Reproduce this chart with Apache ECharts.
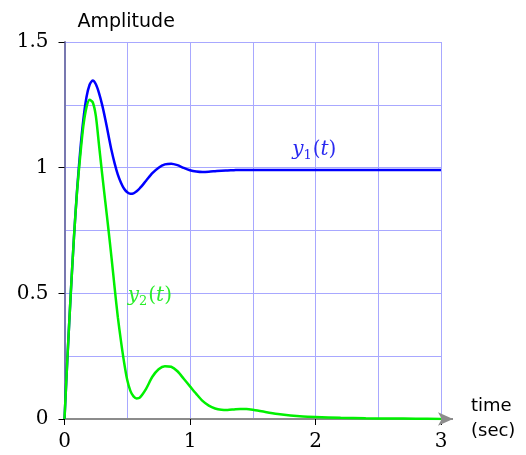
<!DOCTYPE html>
<html><head><meta charset="utf-8">
<script src="https://cdn.jsdelivr.net/npm/echarts@6/dist/echarts.min.js"></script>
<style>html,body{margin:0;padding:0;background:#fff}#c{width:526px;height:455px}</style>
</head><body><div id="c"></div>
<script>
// time samples (sec)
const times = [0,0.025,0.05,0.075,0.1,0.125,0.15,0.175,0.2,0.225,0.25,0.275,0.3,0.325,0.35,0.375,0.4,0.425,0.45,0.475,0.5,0.525,0.55,0.575,0.6,0.65,0.7,0.75,0.8,0.85,0.9,0.95,1.0,1.05,1.1,1.15,1.2,1.25,1.3,1.35,1.4,1.45,1.5,1.6,1.7,1.8,1.9,2.0,2.2,2.4,2.6,2.8,3.0];
// y1(t) amplitude
const y1Values = [0,0.26,0.5,0.72,0.91,1.065,1.19,1.28,1.33,1.347,1.332,1.297,1.25,1.193,1.13,1.068,1.016,0.972,0.94,0.916,0.902,0.896,0.898,0.906,0.918,0.948,0.978,1.0,1.013,1.016,1.01,0.999,0.99,0.985,0.983,0.984,0.986,0.988,0.989,0.99,0.991,0.991,0.991,0.991,0.991,0.991,0.991,0.991,0.991,0.991,0.991,0.991,0.991];
// y2(t) amplitude
const y2Values = [0,0.26,0.5,0.72,0.905,1.045,1.165,1.24,1.27,1.26,1.205,1.09,0.975,0.865,0.755,0.64,0.52,0.405,0.31,0.225,0.155,0.112,0.09,0.082,0.085,0.12,0.168,0.198,0.21,0.208,0.19,0.16,0.13,0.1,0.072,0.053,0.042,0.037,0.036,0.038,0.04,0.04,0.037,0.028,0.02,0.014,0.01,0.008,0.005,0.003,0.002,0.001,0.0];
const seriesNames = ['y1','y2'];
const xAxisTitle = 'time\n(sec)';
const yAxisTitle = 'Amplitude';

const serifFont = 'DejaVu Serif';
const sansFont = 'DejaVu Sans';
const gridColor = '#a8a8ff';

const y1Pairs = times.map((t,i)=>[t,y1Values[i]]);
const y2Pairs = times.map((t,i)=>[t,y2Values[i]]);

function mathLabel(sub, color){
  return {
    show:true, position:'inside',
    formatter:'{i|y}{s|'+sub+'}{r|(}{i|t}{r|)}',
    rich:{
      i:{fontFamily:serifFont,fontStyle:'italic',fontSize:20,color:color},
      r:{fontFamily:serifFont,fontSize:20,color:color},
      s:{fontFamily:serifFont,fontSize:13,color:color,padding:[11,1,0,0]}
    }
  };
}

const chart = echarts.init(document.getElementById('c'));
chart.setOption({
  animation:false,
  grid:{left:64.5,right:85,top:42,bottom:36,containLabel:false},
  xAxis:{
    type:'value',min:0,max:3,interval:1,
    name:xAxisTitle,nameLocation:'end',nameGap:30,
    nameTextStyle:{fontFamily:sansFont,fontSize:18,color:'#000',align:'left',verticalAlign:'middle',lineHeight:25},
    axisLine:{show:true,onZero:false,lineStyle:{color:'#8c8c8c',width:2},symbol:['none','arrow'],symbolSize:[10,15],symbolOffset:[0,12]},
    axisTick:{show:true,length:6,lineStyle:{color:'#000',width:1}},
    axisLabel:{fontFamily:serifFont,fontSize:20,color:'#000',margin:13},
    splitLine:{show:true,lineStyle:{color:gridColor,width:1}},
    minorTick:{show:false,splitNumber:2},
    minorSplitLine:{show:true,lineStyle:{color:gridColor,width:1}}
  },
  yAxis:{
    type:'value',min:0,max:1.5,interval:0.5,
    name:yAxisTitle,nameLocation:'end',nameGap:10,
    nameTextStyle:{fontFamily:sansFont,fontSize:19,color:'#000',align:'left',verticalAlign:'bottom',padding:[0,0,0,13]},
    axisLine:{show:true,onZero:false,lineStyle:{color:'#7878b0',width:2}},
    axisTick:{show:true,length:6,lineStyle:{color:'#000',width:1}},
    axisLabel:{fontFamily:serifFont,fontSize:20,color:'#000',margin:16},
    splitLine:{show:true,lineStyle:{color:gridColor,width:1}},
    minorTick:{show:false,splitNumber:2},
    minorSplitLine:{show:true,lineStyle:{color:gridColor,width:1}}
  },
  series:[
    {name:seriesNames[0],type:'line',data:y1Pairs,showSymbol:false,smooth:0.25,
     lineStyle:{color:'#0000ff',width:2.5},itemStyle:{color:'#0000ff'},z:3,
     markPoint:{symbol:'circle',symbolSize:0,silent:true,
       data:[{coord:[1.99,1.07],label:mathLabel('1','#2a2af0')}]}},
    {name:seriesNames[1],type:'line',data:y2Pairs,showSymbol:false,smooth:0.25,
     lineStyle:{color:'#00f000',width:2.5},itemStyle:{color:'#00f000'},z:4,
     markPoint:{symbol:'circle',symbolSize:0,silent:true,
       data:[{coord:[0.68,0.49],label:mathLabel('2','#2aee2a')}]}}
  ]
});
// extend x axis line toward the arrow head
const p0 = chart.convertToPixel({gridIndex:0},[3,0]);
chart.setOption({graphic:[{type:'line',shape:{x1:p0[0],y1:p0[1],x2:p0[0]+12,y2:p0[1]},style:{stroke:'#8c8c8c',lineWidth:2},z:1}]});
</script></body></html>
